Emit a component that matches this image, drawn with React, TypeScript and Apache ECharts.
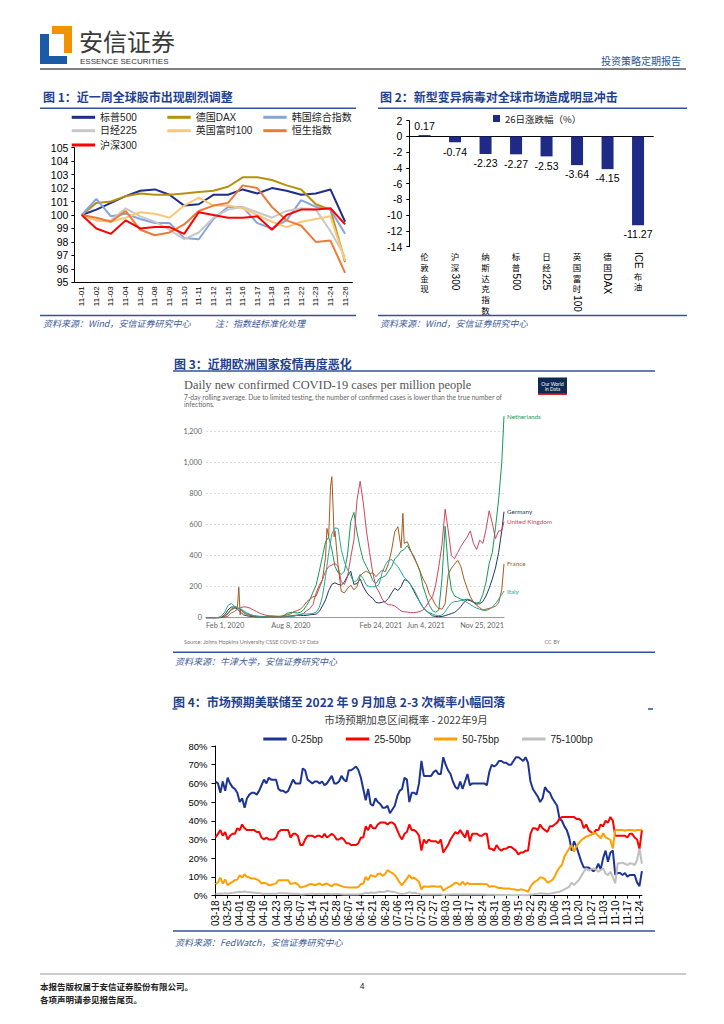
import React, { useEffect, useRef } from "react";
import * as echarts from "echarts";

const FONT = "'Liberation Sans', Arial, 'Noto Sans CJK SC', sans-serif";
const CJK = "'Noto Sans CJK SC', 'Liberation Sans', sans-serif";
const LATO = "Lato, 'Liberation Sans', sans-serif";
const TITLE_BLUE = "#1f3f8f";
const LINE_BLUE = "#2f5597";
const SRC = "#3d5a99";

// ---------- Chart 1 ----------
const c1Dates = ["11-01", "11-02", "11-03", "11-04", "11-05", "11-08", "11-09", "11-10", "11-11", "11-12", "11-15", "11-16", "11-17", "11-18", "11-19", "11-22", "11-23", "11-24", "11-26"];
const sp500 = [100, 100.4, 100.9, 101.4, 101.8, 101.9, 101.5, 100.7, 100.8, 101.5, 101.5, 101.9, 101.6, 102.0, 101.8, 101.5, 101.6, 101.9, 99.5];
const dax = [100, 100.9, 101.0, 101.4, 101.6, 101.5, 101.5, 101.6, 101.7, 101.8, 102.1, 102.8, 102.8, 102.6, 102.2, 101.9, 100.8, 100.4, 96.5];
const kospi = [100, 101.2, 99.9, 100.1, 99.7, 99.4, 99.4, 98.3, 98.2, 99.7, 100.6, 100.6, 99.4, 99.0, 99.6, 101.1, 100.6, 100.4, 98.6];
const nikkei = [100, 99.6, 99.6, 100.5, 99.9, 99.5, 98.9, 98.2, 98.7, 99.8, 100.4, 100.6, 100.2, 99.8, 100.3, 100.5, 100.4, 98.8, 96.9];
const ftse = [100, 99.6, 99.5, 99.8, 100.2, 100.1, 99.8, 100.7, 101.3, 100.7, 100.7, 100.5, 100.0, 99.5, 99.1, 99.5, 99.7, 99.9, 96.6];
const hsi = [100, 99.8, 99.5, 100.3, 98.9, 98.5, 98.7, 99.3, 100.3, 100.7, 100.9, 102.2, 102.0, 100.6, 99.6, 99.2, 98.0, 98.1, 95.7];
const csi300 = [100, 99.0, 98.6, 99.6, 99.0, 99.1, 99.1, 98.6, 100.2, 100.0, 99.8, 99.8, 99.9, 98.9, 100.0, 100.4, 100.4, 100.5, 99.3];
const c1Names = ["标普500", "德国DAX", "韩国综合指数", "日经225", "英国富时100", "恒生指数", "沪深300"];
const c1Colors = ["#1f2e8c", "#b8900f", "#86a4dc", "#c8c8c8", "#fac77a", "#ec7c35", "#ff0000"];
const c1Values = [sp500, dax, kospi, nikkei, ftse, hsi, csi300];

// ---------- Chart 2 ----------
const c2Cats = ["伦敦金现", "沪深300", "纳斯达克指数", "标普500", "日经225", "英国富时100", "德国DAX", "ICE布油"];
const c2Vals = [0.17, -0.74, -2.23, -2.27, -2.53, -3.64, -4.15, -11.27];

// ---------- Chart 3 (weekly samples from 2020-02-01, last = 2021-11-25) ----------
const c3LabelDates = ["2020-02-01", "2020-08-08", "2021-02-24", "2021-06-04", "2021-11-25"];
const netherlands = [0, 0, 0, 0, 0.2, 2, 8, 25, 50, 60, 63, 52, 38, 28, 18, 12, 10, 9, 8, 7, 5, 4, 4, 5, 8, 18, 30, 34, 33, 30, 35, 50, 80, 115, 165, 210, 300, 395, 490, 520, 440, 330, 290, 280, 300, 410, 620, 680, 550, 450, 370, 330, 290, 240, 220, 250, 260, 270, 300, 330, 380, 400, 430, 440, 465, 430, 400, 350, 300, 200, 140, 80, 45, 35, 50, 250, 590, 320, 180, 140, 130, 120, 115, 120, 115, 100, 95, 100, 150, 230, 350, 420, 580, 760, 1000, 1300];
const germany = [0, 0, 0, 0, 0.5, 3, 20, 50, 68, 70, 55, 35, 18, 12, 9, 7, 6, 5, 4, 3.5, 6, 6, 5, 4.5, 5.5, 7, 8.5, 10, 13, 15, 15, 14, 15, 19, 21, 23, 41, 75, 115, 175, 215, 225, 215, 210, 230, 270, 300, 215, 220, 250, 200, 165, 140, 125, 98, 95, 100, 105, 125, 160, 190, 175, 200, 245, 240, 215, 175, 135, 100, 65, 45, 28, 12, 8, 6.5, 8, 13, 20, 26, 34, 50, 72, 100, 115, 110, 100, 88, 90, 105, 140, 190, 250, 320, 420, 560, 684];
const unitedKingdom = [0, 0, 0, 0, 0.3, 0.5, 3, 10, 30, 40, 55, 65, 70, 68, 62, 50, 40, 30, 22, 16, 13, 12, 10, 9, 9, 10, 11, 12, 15, 17, 20, 28, 45, 58, 85, 160, 210, 245, 300, 330, 340, 350, 330, 230, 215, 265, 390, 500, 760, 880, 740, 560, 420, 290, 200, 165, 120, 95, 83, 83, 75, 60, 43, 38, 36, 33, 33, 35, 40, 50, 75, 110, 135, 210, 330, 470, 700, 560, 400, 380, 420, 460, 490, 520, 560, 480, 440, 500, 480, 570, 690, 610, 510, 560, 560, 620];
const france = [0, 0, 0, 0.1, 0.5, 3, 12, 30, 55, 65, 70, 55, 30, 20, 15, 8, 5, 4, 6, 7, 6, 8, 9, 8, 10, 14, 20, 26, 40, 45, 55, 75, 103, 120, 135, 140, 190, 245, 390, 522, 910, 560, 330, 170, 160, 190, 210, 180, 200, 270, 290, 300, 285, 290, 265, 286, 307, 297, 350, 436, 555, 587, 450, 480, 490, 436, 390, 350, 300, 250, 215, 150, 120, 80, 60, 55, 90, 280, 320, 345, 370, 330, 250, 190, 135, 100, 80, 65, 50, 55, 60, 65, 75, 95, 180, 347];
const franceExtra: [string, number][] = [["2020-04-14", 196], ["2020-04-17", 18], ["2020-10-27", 576], ["2020-11-04", 845], ["2020-11-10", 694], ["2020-11-12", 522], ["2021-04-14", 673]];
const italy = [0, 0, 0, 0.3, 2.5, 12, 37, 80, 92, 75, 65, 58, 45, 30, 22, 15, 11, 8, 5.5, 5, 4, 3.5, 3.5, 3.5, 4, 4.5, 5, 6.5, 9, 16, 21, 24, 24, 25, 27, 36, 66, 135, 265, 420, 540, 580, 575, 440, 360, 310, 270, 230, 240, 280, 250, 210, 200, 200, 200, 215, 290, 340, 370, 375, 350, 330, 295, 260, 240, 215, 185, 145, 100, 65, 45, 33, 24, 16, 14, 17, 38, 70, 95, 105, 105, 112, 110, 98, 85, 72, 62, 55, 48, 47, 53, 70, 90, 120, 150, 172];

// ---------- Chart 4 ----------
const c4Blue = [61, 60, 55, 61, 56, 63, 60, 58, 57, 55, 50, 52, 47, 52, 54, 55, 55, 54, 56, 59, 62, 60, 63, 62, 62, 62, 57, 56, 56, 55, 56, 59, 62, 60, 60, 60, 68, 67, 62, 61, 60, 61, 61, 60, 61, 59, 60, 62, 64, 60, 60, 61, 64, 62, 61, 67, 67, 68, 69, 67, 63, 57, 51, 57, 49, 48, 52, 50, 49, 47, 47, 48, 44, 46, 48, 53, 56, 57, 63, 62, 50, 55, 55, 54, 60, 72, 64, 64, 64, 64, 66, 67, 65, 65, 74, 70, 67, 65, 61, 58, 57, 61, 57, 61, 65, 59, 60, 60, 60, 60, 60, 60, 59, 66, 70, 69, 70, 72, 72, 71, 71, 70, 70, 72, 74, 74, 73, 72, 74, 71, 61, 57, 55, 53, 50, 52, 58, 56, 55, 52, 50, 48, 41, 40, 37, 35, 31, 24, 29, 26, 22, 18, 15, 15, 15, 14, 13, 14, 17, 14, 20, 24, 18, 23, 24, 11, 12, 12, 11, 12, 10, 11, 11, 11, 7, 5, 13];
const c4Red = [31, 33, 35, 32, 34, 30, 32, 33, 33, 36, 35, 38, 36, 35, 35, 35, 35, 34, 34, 31, 30, 31, 30, 30, 30, 31, 34, 35, 35, 35, 35, 31, 33, 33, 32, 27, 27, 30, 32, 32, 32, 31, 32, 32, 31, 33, 31, 32, 33, 32, 30, 30, 31, 30, 28, 28, 27, 27, 27, 28, 31, 31, 37, 35, 38, 36, 36, 38, 39, 39, 39, 38, 39, 39, 38, 35, 32, 30, 33, 34, 38, 35, 35, 34, 32, 24, 30, 28, 30, 29, 29, 29, 28, 30, 23, 25, 27, 30, 32, 34, 33, 35, 33, 31, 35, 29, 33, 33, 33, 32, 32, 33, 33, 25, 25, 24, 27, 25, 24, 25, 25, 26, 26, 25, 24, 22, 23, 23, 24, 24, 33, 36, 36, 35, 38, 36, 35, 34, 37, 37, 38, 39, 41, 42, 42, 42, 42, 42, 42, 41, 41, 40, 36, 38, 35, 34, 33, 35, 35, 38, 37, 40, 39, 42, 40, 32, 32, 32, 32, 32, 31, 33, 33, 31, 30, 25, 35];
const c4Orange = [6, 7, 9.6, 6.4, 8.6, 5.5, 6.5, 7.3, 8.2, 8.5, 10.9, 9.6, 11.4, 10, 9.6, 9.1, 9.1, 8.6, 8, 6.4, 6.8, 6.5, 5.5, 5.8, 6.1, 6.5, 8.2, 8.2, 8.2, 8.2, 8.2, 6.1, 6.5, 6.8, 6, 4.3, 4.5, 5, 5.5, 6.1, 6, 5.5, 6, 6.4, 5.5, 6, 6.4, 5.5, 5, 6, 6, 5.5, 5, 4.6, 4.4, 4.3, 4.3, 4.3, 4.3, 4.6, 6, 6.4, 10, 8.2, 10.9, 10.5, 10, 11.5, 11.8, 10.5, 11.5, 13.6, 12.7, 12, 11, 9.1, 7, 5.5, 7.3, 9, 10.9, 9.1, 9.5, 8.5, 7.3, 3.3, 5, 4.7, 4.7, 5, 5, 4.8, 4.7, 5, 2.6, 3.5, 4.3, 5, 5.8, 6.9, 6.5, 5.6, 7.4, 5.6, 6.9, 6, 6.2, 6.2, 6.2, 6.2, 6.2, 6.2, 6, 4.7, 5, 5, 4.5, 4, 4, 3.8, 3.8, 3.8, 3.5, 3.3, 3.1, 2.9, 3.3, 3, 2.6, 2, 4.7, 6.5, 7.5, 8.3, 9.7, 9.5, 8.6, 6.9, 7.5, 8.3, 10.1, 13, 15, 16.3, 20.8, 23, 25.2, 27, 23.5, 26.5, 28, 29.7, 30.6, 31.5, 32, 32.4, 33.6, 33.3, 32, 30.6, 33.3, 31.1, 30.5, 29.7, 25.2, 35, 35, 35, 35, 34.7, 35, 35, 35, 34.7, 35, 35, 35.4];
const c4Gray = [0.8, 1, 1.1, 1, 1.2, 1, 1.3, 1.4, 1.6, 1.8, 2, 1.8, 2.1, 1.8, 1.7, 1.6, 1.5, 1.4, 1.3, 1, 1, 1, 0.9, 0.9, 1, 1, 1.2, 1.2, 1.2, 1.2, 1.1, 0.9, 1, 1, 0.9, 0.6, 0.6, 0.7, 0.8, 0.9, 0.9, 0.8, 0.8, 0.9, 0.8, 0.8, 0.9, 0.8, 0.7, 0.8, 0.8, 0.8, 0.7, 0.6, 0.6, 0.5, 0.5, 0.5, 0.5, 0.6, 0.8, 0.9, 1.5, 1.2, 1.6, 1.5, 1.5, 1.8, 2, 1.8, 2, 2.5, 2.2, 2, 1.8, 1.4, 1, 0.8, 1, 1.3, 1.8, 1.4, 1.5, 1.2, 1, 0.4, 0.6, 0.5, 0.5, 0.5, 0.6, 0.6, 0.5, 0.5, 0.3, 0.4, 0.4, 0.5, 0.6, 0.7, 0.6, 0.6, 0.7, 0.6, 0.7, 0.6, 0.6, 0.6, 0.6, 0.6, 0.6, 0.5, 0.4, 0.4, 0.4, 0.4, 0.3, 0.3, 0.3, 0.3, 0.3, 0.3, 0.2, 0.2, 0.2, 0.3, 0.2, 0.2, 0.2, 0.1, 0.5, 0.6, 0.8, 1, 1.2, 1.1, 1, 0.8, 1, 1.2, 1.5, 1.8, 2, 2.6, 3.3, 4, 4.7, 6.9, 5.6, 7, 8.3, 10.5, 12.7, 14.5, 13.3, 14, 14.5, 13.9, 12.7, 13.5, 14.5, 11.8, 10.9, 12.7, 10, 6.5, 17.2, 17.2, 17.6, 17, 16.3, 17.2, 17, 16.3, 19, 25, 17];
const c4Names = ["0-25bp", "25-50bp", "50-75bp", "75-100bp"];
const c4Colors = ["#1c3594", "#ff0000", "#ffa000", "#bfbfbf"];
const c4Holidays = ["2021-04-02", "2021-05-31", "2021-07-05", "2021-09-06", "2021-11-25"];

const DAY = 86400000;
function isoOf(t: number) {
  return new Date(t).toISOString().slice(0, 10);
}
function tOf(iso: string) {
  const [y, m, d] = iso.split("-").map(Number);
  return Date.UTC(y, m - 1, d);
}
const c3Days: string[] = [];
for (let t = tOf("2020-02-01"); t <= tOf("2021-11-25"); t += DAY) c3Days.push(isoOf(t));
const c3Weekly: string[] = [];
for (let k = 0; k < 95; k++) c3Weekly.push(isoOf(tOf("2020-02-01") + 7 * k * DAY));
c3Weekly.push("2021-11-25");
const c4Days: string[] = [];
for (let t = tOf("2021-03-18"); t <= tOf("2021-11-26"); t += DAY) {
  const iso = isoOf(t);
  const wd = new Date(t).getUTCDay();
  if (wd === 0 || wd === 6 || c4Holidays.includes(iso)) continue;
  c4Days.push(iso.slice(5));
}
const MONTHS = ["Jan", "Feb", "Mar", "Apr", "May", "Jun", "Jul", "Aug", "Sep", "Oct", "Nov", "Dec"];
function prettyDate(iso: string) {
  const [y, m, d] = iso.split("-").map(Number);
  return `${MONTHS[m - 1]} ${d}, ${y}`;
}
function c3Data(vals: number[], extra: [string, number][] = []) {
  const pts: [string, number][] = vals.map((v, k) => [c3Weekly[k], v] as [string, number]).concat(extra);
  pts.sort((a, b) => (a[0] < b[0] ? -1 : a[0] > b[0] ? 1 : 0));
  return pts;
}
const c3Series = [
  { name: "Netherlands", color: "#16995c", data: c3Data(netherlands) },
  { name: "Germany", color: "#25385e", data: c3Data(germany) },
  { name: "United Kingdom", color: "#cf4560", data: c3Data(unitedKingdom) },
  { name: "France", color: "#a8591f", data: c3Data(france, franceExtra) },
  { name: "Italy", color: "#2ea59c", data: c3Data(italy) },
];

function txt(text: string, x: number, y: number, o: any = {}) {
  const style: any = {
    text,
    fill: o.fill || "#000",
    fontSize: o.size || 10,
    fontFamily: o.family || CJK,
    fontWeight: o.weight || "normal",
    fontStyle: o.style || "normal",
    align: o.align || "left",
    verticalAlign: o.va || "middle",
  };
  if (o.lh) style.lineHeight = o.lh;
  return { type: "text", x, y, silent: true, rotation: o.rotation || 0, style };
}
function hline(x1: number, x2: number, y: number, stroke: string, w = 1) {
  return { type: "line", silent: true, shape: { x1, y1: y, x2, y2: y }, style: { stroke, lineWidth: w } };
}
function box(x: number, y: number, w: number, h: number, fill: string) {
  return { type: "rect", silent: true, shape: { x, y, width: w, height: h }, style: { fill } };
}

function staticGraphics() {
  const g: any[] = [];
  // header
  g.push(box(40, 34, 9, 30, "#1a5aa6"));
  g.push(box(40, 56, 27, 8, "#1a5aa6"));
  g.push(box(52, 26, 20, 8, "#f29200"));
  g.push(box(64, 26, 8, 27, "#f29200"));
  g.push(txt("安信证券", 79, 40, { size: 24, fill: "#3a3a3a" }));
  g.push(txt("ESSENCE SECURITIES", 80, 61, { size: 8, family: FONT, fill: "#333" }));
  g.push(txt("投资策略定期报告", 681, 60, { size: 10, fill: "#2452a0", align: "right" }));
  g.push(hline(40, 686, 69, "#7f7f7f", 2));
  // chart 1
  g.push(txt("图 1：近一周全球股市出现剧烈调整", 43, 96.5, { size: 12, weight: "bold", fill: TITLE_BLUE }));
  g.push(hline(40, 356, 108.3, LINE_BLUE, 1.5));
  g.push(hline(40, 356, 315.5, LINE_BLUE, 1.5));
  g.push(txt("资料来源：Wind，安信证券研究中心", 43, 323.5, { size: 9, style: "italic", fill: SRC }));
  g.push(txt("注：指数经标准化处理", 215, 323.5, { size: 9, style: "italic", fill: SRC }));
  // chart 2
  g.push(txt("图 2：新型变异病毒对全球市场造成明显冲击", 380, 96.5, { size: 12, weight: "bold", fill: TITLE_BLUE }));
  g.push(hline(378, 687, 108.3, LINE_BLUE, 1.5));
  g.push(hline(378, 687, 315.5, LINE_BLUE, 1.5));
  g.push(txt("资料来源：Wind，安信证券研究中心", 380, 323.5, { size: 9, style: "italic", fill: SRC }));
  // chart 3
  g.push(txt("图 3：近期欧洲国家疫情再度恶化", 174, 363.5, { size: 12, weight: "bold", fill: TITLE_BLUE }));
  g.push(hline(173, 655, 371, LINE_BLUE, 1.5));
  g.push(txt("Daily new confirmed COVID-19 cases per million people", 184, 385, { size: 12.4, family: "'Liberation Serif', 'DejaVu Serif', serif", fill: "#555" }));
  g.push(txt("7-day rolling average. Due to limited testing, the number of confirmed cases is lower than the true number of", 184, 396.5, { size: 6.7, family: LATO, fill: "#666" }));
  g.push(txt("infections.", 184, 404, { size: 6.7, family: LATO, fill: "#666" }));
  g.push(box(538, 377.5, 29, 17.5, "#0f2a52"));
  g.push(box(538, 393.5, 29, 1.5, "#d7262b"));
  g.push(txt("Our World", 552.5, 383.5, { size: 4.8, family: LATO, fill: "#fff", align: "center" }));
  g.push(txt("in Data", 552.5, 389, { size: 4.8, family: LATO, fill: "#fff", align: "center" }));
  g.push(txt("Source: Johns Hopkins University CSSE COVID-19 Data", 184, 641.8, { size: 5.5, family: LATO, fill: "#777" }));
  g.push(txt("CC BY", 560, 641.8, { size: 5.5, family: LATO, fill: "#777", align: "right" }));
  g.push(hline(173, 655, 652.3, LINE_BLUE, 1.5));
  g.push(txt("资料来源：牛津大学，安信证券研究中心", 175, 661, { size: 9, style: "italic", fill: SRC }));
  // chart 4
  g.push(txt("图 4：市场预期美联储至 2022 年 9 月加息 2-3 次概率小幅回落", 173, 701, { size: 12, weight: "bold", fill: TITLE_BLUE }));
  g.push(hline(172.5, 177.5, 709, LINE_BLUE, 1.5));
  g.push(hline(648, 653, 709, LINE_BLUE, 1.5));
  g.push(txt("市场预期加息区间概率 - 2022年9月", 406, 719.5, { size: 10.5, fill: "#404040", align: "center" }));
  g.push(hline(173, 655, 931, LINE_BLUE, 1.5));
  g.push(txt("资料来源：FedWatch，安信证券研究中心", 175, 942, { size: 9, style: "italic", fill: SRC }));
  // footer
  g.push(hline(40, 686, 974, "#9a9a9a", 1));
  g.push(txt("本报告版权属于安信证券股份有限公司。", 40, 986, { size: 8.5, weight: "bold", fill: "#222" }));
  g.push(txt("各项声明请参见报告尾页。", 40, 999, { size: 8.5, weight: "bold", fill: "#222" }));
  g.push(txt("4", 362, 986, { size: 8.5, family: FONT, fill: "#222", align: "center" }));
  return g;
}

function buildOption() {
  const axisBlack = { lineStyle: { color: "#000", width: 1 } };
  const legendPos = [
    [71.7, 117.3], [167.3, 117.3], [263.3, 117.3],
    [71.7, 130.7], [167.3, 130.7], [263.3, 130.7],
    [71.7, 145],
  ];
  const c1Legends = c1Names.map((name, i) => ({
    data: [name],
    left: legendPos[i][0],
    top: legendPos[i][1] - 7,
    padding: 0,
    icon: "rect",
    itemWidth: 23.4,
    itemHeight: 3,
    itemStyle: { borderWidth: 0 },
    selectedMode: false,
    textStyle: { fontSize: 10, fontFamily: FONT, color: "#222", lineHeight: 14 },
  }));
  const series: any[] = [];
  c1Names.forEach((name, i) => {
    series.push({
      type: "line", name, xAxisIndex: 0, yAxisIndex: 0, data: c1Values[i], symbol: "none",
      lineStyle: { width: 2, color: c1Colors[i] }, itemStyle: { color: c1Colors[i] },
    });
  });
  series.push({
    type: "bar", name: "26日涨跌幅（%）", xAxisIndex: 1, yAxisIndex: 1, barWidth: 12,
    itemStyle: { color: "#1f2a86" },
    label: { show: true, fontSize: 10.5, fontFamily: FONT, color: "#000", distance: 4, formatter: (p: any) => Number(p.value).toFixed(2) },
    data: c2Vals.map((v) => ({ value: v, label: { position: v >= 0 ? "top" : "bottom" } })),
  });
  c3Series.forEach((s) => {
    series.push({
      type: "line", name: s.name, xAxisIndex: 2, yAxisIndex: 2, data: s.data, symbol: "none", clip: false,
      lineStyle: { width: 1, color: s.color }, itemStyle: { color: s.color },
      endLabel: { show: true, formatter: "{a}", color: s.color, fontSize: 6.3, fontFamily: LATO, distance: 3 },
    });
  });
  const c4Vals = [c4Blue, c4Red, c4Orange, c4Gray];
  c4Names.forEach((name, i) => {
    series.push({
      type: "line", name, xAxisIndex: 3, yAxisIndex: 3, data: c4Vals[i], symbol: "none",
      lineStyle: { width: 2, color: c4Colors[i] }, itemStyle: { color: c4Colors[i] },
    });
  });

  return {
    animation: false,
    backgroundColor: "#fff",
    textStyle: { fontFamily: FONT },
    grid: [
      { left: 74.4, top: 147.7, width: 278, height: 134.6 },
      { left: 409.3, top: 120.7, width: 244, height: 126 },
      { left: 206, top: 431.7, width: 298, height: 186 },
      { left: 215.5, top: 746, width: 426.4, height: 149.5 },
    ],
    xAxis: [
      {
        type: "category", gridIndex: 0, data: c1Dates, boundaryGap: true, axisLine: axisBlack,
        axisTick: { lineStyle: { color: "#000" }, length: 3 },
        axisLabel: { interval: 0, rotate: 90, fontSize: 8, color: "#000", margin: 4, fontFamily: FONT },
      },
      {
        type: "category", gridIndex: 1, data: c2Cats, boundaryGap: true, axisLine: { onZero: true, lineStyle: { color: "#000" } },
        axisTick: { lineStyle: { color: "#000" }, length: 4 }, axisLabel: { show: false },
      },
      {
        type: "category", gridIndex: 2, data: c3Days, boundaryGap: false,
        axisLine: { lineStyle: { color: "#9a9a9a" } }, axisTick: { show: false },
        axisLabel: {
          interval: (_i: number, v: string) => c3LabelDates.includes(v),
          formatter: (v: string) => prettyDate(v), fontSize: 7.3, color: "#666", fontFamily: LATO, margin: 4,
          alignMinLabel: "left", alignMaxLabel: "right",
        },
      },
      {
        type: "category", gridIndex: 3, data: c4Days, boundaryGap: false, axisLine: axisBlack,
        axisTick: { interval: 4, length: 3, lineStyle: { color: "#000" } },
        axisLabel: { interval: 4, rotate: 90, fontSize: 10, color: "#000", margin: 5, fontFamily: FONT },
      },
    ],
    yAxis: [
      {
        type: "value", gridIndex: 0, min: 95, max: 105, interval: 1, axisLine: { show: true, lineStyle: { color: "#000" } },
        axisTick: { show: true, length: 3, lineStyle: { color: "#000" } }, splitLine: { show: false },
        axisLabel: { fontSize: 10.5, color: "#000", margin: 6, fontFamily: FONT },
      },
      {
        type: "value", gridIndex: 1, min: -14, max: 2, interval: 2, axisLine: { show: true, lineStyle: { color: "#000" } },
        axisTick: { show: true, length: 3, lineStyle: { color: "#000" } }, splitLine: { show: false },
        axisLabel: { fontSize: 10.5, color: "#000", margin: 7, fontFamily: FONT },
      },
      {
        type: "value", gridIndex: 2, min: 0, max: 1200, interval: 200, axisLine: { show: false }, axisTick: { show: false },
        splitLine: { lineStyle: { color: "#dcdcdc", type: [2, 2] } },
        axisLabel: { fontSize: 7.3, color: "#666", fontFamily: LATO, margin: 4, formatter: (v: number) => v.toLocaleString("en-US") },
      },
      {
        type: "value", gridIndex: 3, min: 0, max: 80, interval: 10, axisLine: { show: true, lineStyle: { color: "#000" } },
        axisTick: { show: true, length: 4, lineStyle: { color: "#000" } }, splitLine: { show: false },
        axisLabel: { fontSize: 9.5, color: "#000", margin: 8, fontFamily: FONT, formatter: "{value}%" },
      },
    ],
    legend: [
      ...c1Legends,
      {
        data: ["26日涨跌幅（%）"], left: 493, top: 111.5, padding: 0, icon: "rect", itemWidth: 7, itemHeight: 7,
        itemGap: 4, selectedMode: false, textStyle: { fontSize: 9.5, fontFamily: CJK, color: "#222", lineHeight: 14 },
      },
      {
        data: c4Names, left: 263.3, top: 732, padding: 0, icon: "rect", itemWidth: 23.4, itemHeight: 3, itemGap: 23,
        itemStyle: { borderWidth: 0 }, selectedMode: false, textStyle: { fontSize: 10, fontFamily: FONT, color: "#222", lineHeight: 14 },
      },
    ],
    series,
    graphic: staticGraphics(),
  };
}

// Vertical category label: CJK characters stacked upright, Latin/digit runs rotated.
const V_SIZE = 8.5;
const V_STEP = 10.8;
function vertLabel(text: string, cx: number, top: number, measure: (s: string) => number) {
  const els: any[] = [];
  let y = top;
  const runs = text.match(/[A-Za-z0-9]+|./g) || [];
  for (const r of runs) {
    if (/^[A-Za-z0-9]+$/.test(r)) {
      const w = measure(r);
      els.push(txt(r, cx, y + 1.5 + w / 2, { size: 10, family: FONT, align: "center", rotation: -Math.PI / 2 }));
      y += w + 3;
    } else {
      els.push(txt(r, cx, y + V_STEP / 2, { size: V_SIZE, family: CJK, align: "center" }));
      y += V_STEP;
    }
  }
  return els;
}

export default function App() {
  const ref = useRef<HTMLDivElement>(null);
  useEffect(() => {
    if (!ref.current) return;
    const chart = echarts.init(ref.current, null, { renderer: "svg", width: 724, height: 1024 });
    chart.setOption(buildOption() as any);
    const canvas = document.createElement("canvas");
    const ctx = canvas.getContext("2d");
    const measure = (s: string) => {
      if (!ctx) return s.length * 5.6;
      ctx.font = "10px 'Liberation Sans', Arial, sans-serif";
      return ctx.measureText(s).width;
    };
    const labels: any[] = [];
    c2Cats.forEach((c) => {
      const px = chart.convertToPixel({ xAxisIndex: 1 } as any, c as any) as any;
      const cx = Array.isArray(px) ? px[0] : px;
      labels.push(...vertLabel(c, cx, 250.5, measure));
    });
    chart.setOption({ graphic: [...staticGraphics(), ...labels] } as any);
    return () => chart.dispose();
  }, []);
  return <div ref={ref} style={{ position: "absolute", left: 0, top: 0, width: 724, height: 1024, background: "#fff" }} />;
}
